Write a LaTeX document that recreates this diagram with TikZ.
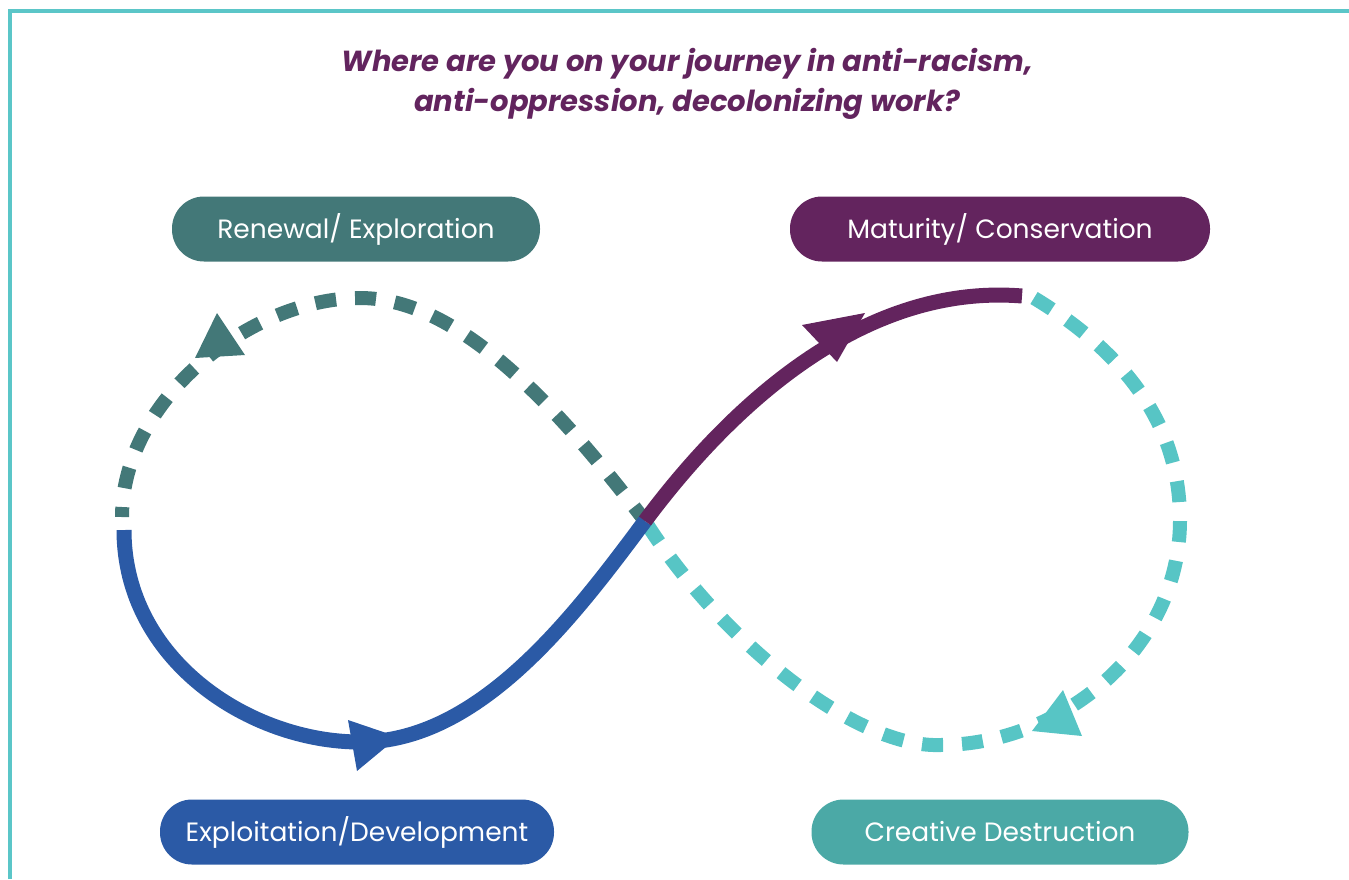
\documentclass[tikz,border=0pt]{standalone}
\usepackage{fontspec}
\setmainfont{Poppins}

\definecolor{frameteal}{RGB}{91,198,200}
\definecolor{titlepurple}{RGB}{98,36,94}
\definecolor{renewal}{RGB}{67,120,120}
\definecolor{maturity}{RGB}{99,36,94}
\definecolor{exploit}{RGB}{43,90,166}
\definecolor{destruct}{RGB}{75,169,166}
\definecolor{destructline}{RGB}{87,197,197}

\begin{document}
\begin{tikzpicture}[x=1pt,y=-1pt,
        stage/.style={rounded corners=32pt,minimum height=65pt,inner sep=0pt,
            text=white,font=\fontsize{26.5}{30}\selectfont},
        solidpath/.style={line width=15pt},
        dashpath/.style={line width=14pt,dash pattern=on 21pt off 19pt}]

    \useasboundingbox (0,0) rectangle (1349,879);
    \draw[frameteal,line width=4pt] (10,879) -- (10,11) -- (1349,11);

    \node[text=titlepurple,align=center,font=\fontsize{29}{40}\selectfont\bfseries\itshape]
        (title) at (687,84) {Where are you on your journey in anti-racism,\\anti-oppression, decolonizing work?};

    % the four stages
    \node[stage,fill=renewal,minimum width=368pt] (renewal) at (356,229) {Renewal/ Exploration};
    \node[stage,fill=maturity,minimum width=420pt] (maturity) at (1000,229) {Maturity/ Conservation};
    \node[stage,fill=exploit,minimum width=394pt] (exploit) at (357,832) {Exploitation/Development};
    \node[stage,fill=destruct,minimum width=377pt] (destruct) at (1000,832) {Creative Destruction};

    % points on the loop
    \coordinate (mid) at (645,521);
    \coordinate (lefttop) at (360,298);
    \coordinate (leftend) at (122,517);
    \coordinate (leftstart) at (124,530);
    \coordinate (leftbot) at (360,742);
    \coordinate (righttop) at (1022,296);
    \coordinate (rightstart) at (1034,298);
    \coordinate (rightside) at (1180,520);
    \coordinate (rightbot) at (940,745);

    \draw[dashpath,renewal,dash phase=11pt] (leftend) .. controls (122,400) and (250,298) .. (lefttop)
        .. controls (460,298) and (560,410) .. (mid);
    \draw[dashpath,destructline] (rightstart) .. controls (1120,350) and (1180,420) .. (rightside)
        .. controls (1180,650) and (1060,745) .. (rightbot)
        .. controls (855,748) and (720,640) .. (mid);

    \draw[solidpath,exploit] (leftstart) .. controls (124,660) and (250,742) .. (leftbot)
        .. controls (480,742) and (575,615) .. (mid);
    \draw[solidpath,maturity] (mid) .. controls (715,427) and (850,282) .. (righttop);

    % arrow heads
    \fill[renewal] (217,313) -- (195,358) -- (245,355) -- cycle;
    \fill[destructline] (1063,690) -- (1032,731) -- (1082,736) -- cycle;
    \fill[exploit] (348,720) -- (357,771) -- (398,737) -- cycle;
    \fill[maturity] (802,325) -- (837,362) -- (865,313) -- cycle;
\end{tikzpicture}
\end{document}
